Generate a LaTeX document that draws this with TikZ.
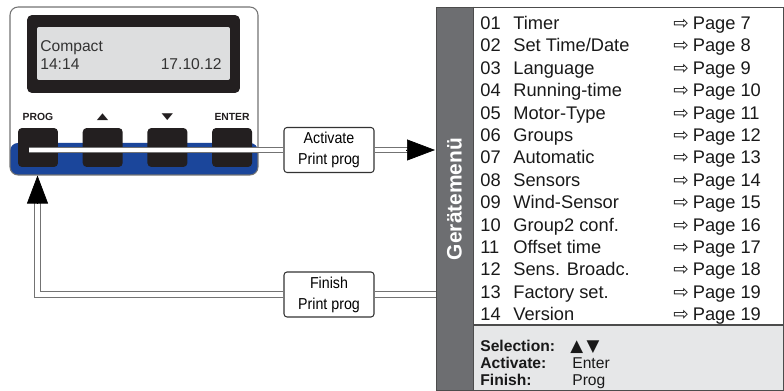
\documentclass[tikz,border=0pt]{standalone}
\usepackage{fontspec}
\setmainfont{Liberation Sans}
\newfontfamily\narrowfont[FakeStretch=0.9]{Liberation Sans}
\newfontfamily\symbfont{DejaVu Sans}
\usetikzlibrary{positioning}
\usetikzlibrary{arrows.meta}
\definecolor{devblue}{RGB}{27,70,155}
\definecolor{panelgray}{RGB}{109,110,113}
\definecolor{helpgray}{RGB}{230,231,232}
\definecolor{lcdgray}{RGB}{221,222,223}
\definecolor{keyblack}{RGB}{35,31,32}
\newcommand{\goto}{{\symbfont\fontsize{10.5}{12}\selectfont ⇨}\hspace{0.08cm}}
\newcommand{\flattri}[1]{\scalebox{1}[0.6]{\symbfont\fontsize{8.5}{10}\selectfont #1}}
\tikzset{
	device/.style = {draw = black!55, line width = 0.6pt, fill = white, rounded corners = 0.16cm, minimum width = 4.96cm, minimum height = 3.36cm,
		path picture = {\fill[devblue] (path picture bounding box.south west) rectangle ([yshift = 0.64cm]path picture bounding box.south east);}},
	key/.style = {fill = keyblack, rectangle, rounded corners = 0.08cm, minimum width = 0.8cm, minimum height = 0.78cm},
	keylabel/.style = {inner sep = 0pt, text = keyblack, font = \bfseries\fontsize{5.9}{7}\selectfont},
	lcdtext/.style = {inner sep = 0pt, text = black!80, font = \fontsize{8.9}{10}\selectfont},
	stepbox/.style = {draw = black!80, line width = 0.6pt, rounded corners = 0.06cm, minimum width = 1.8cm, minimum height = 0.9cm, align = center, inner sep = 0pt, font = \narrowfont\fontsize{9}{11.9}\selectfont},
	dbl/.style = {draw = black!55, line width = 0.6pt, double = white, double distance = 0.09cm, line join = miter},
	head/.style = {-{Triangle[length = 0.56cm, width = 0.42cm]}, draw = black, fill = black, line width = 0.4pt},
	item/.style = {anchor = base west, inner sep = 0pt, text = black!90, font = \fontsize{10.4}{12}\selectfont},
	helptext/.style = {anchor = base west, inner sep = 0pt, text = black!90, font = \fontsize{8.9}{10}\selectfont}
}
\begin{document}
\begin{tikzpicture}[x = 0.02cm, y = -0.02cm]
	\useasboundingbox (0,0) rectangle (784,391);
	\node[device] at (134,91) (dev) {};
	\node[fill = keyblack, rounded corners = 0.1cm, minimum width = 4.26cm, minimum height = 1.56cm] at (133.5,54) (screen) {};
	\node[fill = lcdgray, rounded corners = 0.04cm, minimum width = 3.86cm, minimum height = 1.06cm] at (133.5,53.5) (lcd) {};
	\node[lcdtext, anchor = base west] at (40,52) (lcdname) {Compact};
	\node[lcdtext, anchor = base west] at (40,69.5) (lcdclock) {14:14};
	\node[lcdtext, anchor = base east] at (222,69.5) (lcddate) {17.10.12};
	\node[key] at (38,147.5) (prog) {};
	\node[key, right = 0.48cm of prog] (up) {};
	\node[key, right = 0.48cm of up] (down) {};
	\node[key, right = 0.48cm of down] (enter) {};
	\node[keylabel, above = 0.14cm of prog] (lprog) {PROG};
	\node[keylabel, above = 0.14cm of up] (lup) {\flattri{▲}};
	\node[keylabel, above = 0.14cm of down] (ldown) {\flattri{▼}};
	\node[keylabel, above = 0.14cm of enter] (lenter) {ENTER};

	\node[fill = panelgray, minimum width = 0.74cm, minimum height = 7.68cm, inner sep = 0pt] at (454.5,199) (side) {};
	\node[fill = helpgray, draw = black!70, line width = 0.6pt, minimum width = 6.22cm, minimum height = 1.32cm, inner sep = 0pt] at (628.5,358) (help) {};
	\node[draw = black!70, line width = 0.6pt, minimum width = 6.96cm, minimum height = 7.68cm, inner sep = 0pt] at (610,199) (menu) {};
	\draw[black!70, line width = 0.6pt] (side.north east) -- (side.south east);
	\node[rotate = 90, text = white, font = \bfseries\fontsize{11.9}{14}\selectfont] at (side) (title) {Gerätemenü};

	\node[item] at (480,29.5) (n01) {01}; \node[item] at (513,29.5) (m01) {Timer}; \node[item] at (673,29.5) (p01) {\goto Page 7};
	\node[item] at (480,51.9) (n02) {02}; \node[item] at (513,51.9) (m02) {Set Time/Date}; \node[item] at (673,51.9) (p02) {\goto Page 8};
	\node[item] at (480,74.3) (n03) {03}; \node[item] at (513,74.3) (m03) {Language}; \node[item] at (673,74.3) (p03) {\goto Page 9};
	\node[item] at (480,96.7) (n04) {04}; \node[item] at (513,96.7) (m04) {Running-time}; \node[item] at (673,96.7) (p04) {\goto Page 10};
	\node[item] at (480,119.1) (n05) {05}; \node[item] at (513,119.1) (m05) {Motor-Type}; \node[item] at (673,119.1) (p05) {\goto Page 11};
	\node[item] at (480,141.5) (n06) {06}; \node[item] at (513,141.5) (m06) {Groups}; \node[item] at (673,141.5) (p06) {\goto Page 12};
	\node[item] at (480,163.9) (n07) {07}; \node[item] at (513,163.9) (m07) {Automatic}; \node[item] at (673,163.9) (p07) {\goto Page 13};
	\node[item] at (480,186.3) (n08) {08}; \node[item] at (513,186.3) (m08) {Sensors}; \node[item] at (673,186.3) (p08) {\goto Page 14};
	\node[item] at (480,208.7) (n09) {09}; \node[item] at (513,208.7) (m09) {Wind-Sensor}; \node[item] at (673,208.7) (p09) {\goto Page 15};
	\node[item] at (480,231.1) (n10) {10}; \node[item] at (513,231.1) (m10) {Group2 conf.}; \node[item] at (673,231.1) (p10) {\goto Page 16};
	\node[item] at (480,253.5) (n11) {11}; \node[item] at (513,253.5) (m11) {Offset time}; \node[item] at (673,253.5) (p11) {\goto Page 17};
	\node[item] at (480,275.9) (n12) {12}; \node[item] at (513,275.9) (m12) {Sens. Broadc.}; \node[item] at (673,275.9) (p12) {\goto Page 18};
	\node[item] at (480,298.3) (n13) {13}; \node[item] at (513,298.3) (m13) {Factory set.}; \node[item] at (673,298.3) (p13) {\goto Page 19};
	\node[item] at (480,320.7) (n14) {14}; \node[item] at (513,320.7) (m14) {Version}; \node[item] at (673,320.7) (p14) {\goto Page 19};

	\node[helptext, font = \bfseries\fontsize{8.9}{10}\selectfont] at (480,352) (hsel) {Selection:};
	\node[helptext, font = \bfseries\fontsize{8.9}{10}\selectfont] at (480,368.5) (hact) {Activate:};
	\node[helptext, font = \bfseries\fontsize{8.9}{10}\selectfont] at (480,385) (hfin) {Finish:};
	\node[helptext] at (570,352) (vsel) {{\symbfont\fontsize{9.5}{10}\selectfont ▲\hspace{0.07cm}▼}};
	\node[helptext] at (572,368.5) (vact) {Enter};
	\node[helptext] at (572,385) (vfin) {Prog};

	\node[stepbox] at (329,150) (activate) {Activate\\Print prog};
	\node[stepbox] at (329,294.5) (finish) {Finish\\Print prog};
	\coordinate (pstart) at (29,150);
	\coordinate (ahead) at (406,150);
	\coordinate (atip) at (435,150);
	\coordinate (bcorner) at (37.5,294.5);
	\coordinate (bhead) at (37.5,203);
	\draw[dbl] (pstart) -- (activate.west);
	\draw[dbl] (activate.east) -- ([xshift = 0.04cm]ahead);
	\draw[head] (ahead) -- (atip);
	\draw[dbl] (menu.west |- finish) -- (finish.east);
	\draw[dbl] (finish.west) -- (bcorner) -- ([yshift = 0.04cm]bhead);
	\draw[head] (bhead) -- (bhead |- dev.south);
\end{tikzpicture}
\end{document}
